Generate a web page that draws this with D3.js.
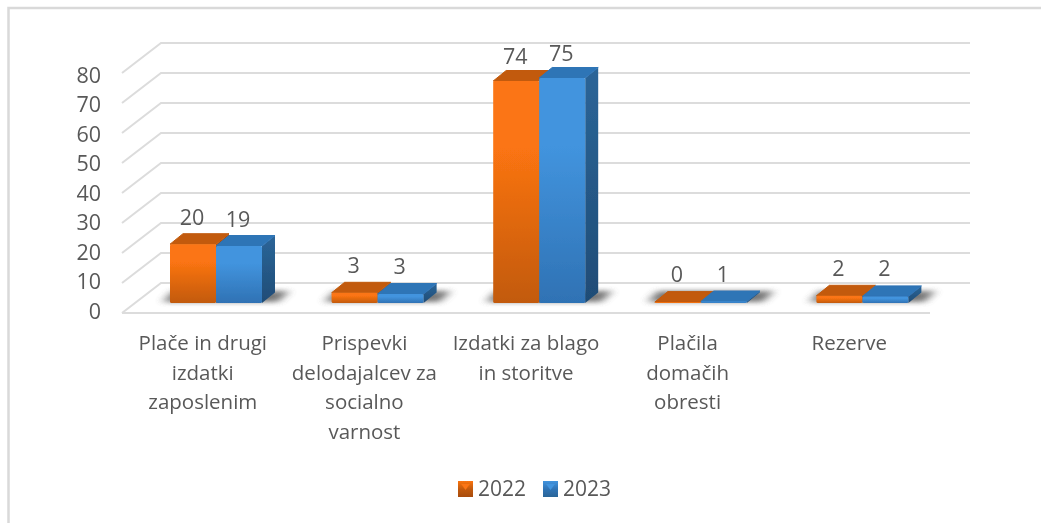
<!DOCTYPE html>
<html><head><meta charset="utf-8">
<script src="https://cdn.jsdelivr.net/npm/d3@7/dist/d3.min.js"></script>
<style>html,body{margin:0;padding:0;background:#fff}svg{display:block}text{font-family:"Open Sans",sans-serif;fill:#595959}</style>
</head><body><svg id="c" width="1041" height="523"></svg>
<script>
const categories=[["Plače in drugi","izdatki","zaposlenim"],["Prispevki","delodajalcev za","socialno","varnost"],["Izdatki za blago","in storitve"],["Plačila","domačih","obresti"],["Rezerve"]];
const series2022=[19.6,3.4,74,0.3,2.4];
const series2023=[19,3,75,0.5,2.2];
const seriesNames=["2022","2023"];
const yTicks=[0,10,20,30,40,50,60,70,80];
const colors=[{front:"#fb7412",dark:"#c25a0c",top:"#c25a0a",side:"#a84c08",sideDark:"#8a3f06"},{front:"#4294de",dark:"#2f72b4",top:"#2f74b6",side:"#2b6598",sideDark:"#1f4c76"}];
const svg=d3.select("#c");
const defs=svg.append("defs");
defs.append("filter").attr("id","soft").append("feGaussianBlur").attr("stdDeviation",0.4);
const sf=defs.append("filter").attr("id","shadow").attr("x","-30%").attr("width","160%").attr("y","-100%").attr("height","300%");
sf.append("feGaussianBlur").attr("stdDeviation",[5,2.5].join(" "));
colors.forEach((c,i)=>{
  const g=defs.append("linearGradient").attr("id","g"+i).attr("x1",0).attr("x2",0).attr("y1",0).attr("y2",1);
  g.append("stop").attr("offset",0).attr("stop-color",c.front);
  g.append("stop").attr("offset",0.3).attr("stop-color",c.front);
  g.append("stop").attr("offset",1).attr("stop-color",c.dark);
  const sd=defs.append("linearGradient").attr("id","d"+i).attr("x1",0).attr("x2",0).attr("y1",0).attr("y2",1);
  sd.append("stop").attr("offset",0).attr("stop-color",c.side);
  sd.append("stop").attr("offset",1).attr("stop-color",c.sideDark);
  const s=defs.append("linearGradient").attr("id","s"+i).attr("x1",0).attr("x2",0).attr("y1",0).attr("y2",1);
  s.append("stop").attr("offset",0).attr("stop-color",c.front);
  s.append("stop").attr("offset",0.5).attr("stop-color",c.top);
  s.append("stop").attr("offset",1).attr("stop-color",c.side);
});
svg.append("path").attr("d","M1041,8H8.5V523").attr("fill","none").attr("stroke","#d9d9d9").attr("stroke-width",2.5);
const root=svg.append("g").attr("filter","url(#soft)");
const depthX=39,depthY=30;
const y=d3.scaleLinear().domain([0,80]).range([313,73]);
const yLabel=d3.scaleLinear().domain([0,80]).range([311,75]);
const x0=d3.scaleBand().domain(d3.range(categories.length)).range([122,930]);
const x1=d3.scaleBand().domain([0,1]).range([48,140]);
// walls and floor grid
const grid=root.append("g").attr("fill","none").attr("stroke","#dcdcdc").attr("stroke-width",2);
yTicks.forEach(t=>{
  grid.append("path").attr("d",`M${x0.range()[0]},${y(t)}l${depthX},${-depthY}H${x0.range()[1]+depthX+1}`);
});
grid.append("path").attr("d",`M122,313H930`);
// y axis labels
root.append("g").selectAll("text").data(yTicks).join("text").attr("x",101).attr("y",d=>yLabel(d)).attr("dy","0.36em").attr("text-anchor","end").attr("font-size",21.5).text(d=>d);
// bars
const barBase=303,barDx=13,barDy=10.5;
const barH=v=>y(0)-y(v);
const data=categories.map((c,i)=>[series2022[i],series2023[i]]);
const groups=root.append("g").selectAll("g").data(data).join("g").attr("transform",(d,i)=>`translate(${x0(i)},0)`);
// shadow on the floor behind each pair of bars
groups.append("path").attr("filter","url(#shadow)").attr("fill","#555").attr("opacity",0.8).attr("d",()=>{
  const a=x1(0),b=x1(1)+x1.bandwidth();
  return `M${a-7},${barBase-1}L${a+3},${barBase-12}H${b+27}L${b+16},${barBase-1}Z`;
});
groups.each(function(vals){
  const g=d3.select(this);
  [0,1].forEach(s=>{
    const v=vals[s],h=barH(v),l=x1(s),w=x1.bandwidth(),c=colors[s],top=barBase-h;
    g.append("path").attr("fill",`url(#d${s})`).attr("d",`M${l+w},${top}l${barDx},${-barDy}V${barBase-barDy}l${-barDx},${barDy}Z`);
    g.append("path").attr("fill",c.top).attr("stroke",c.top).attr("stroke-linejoin","round").attr("d",`M${l},${top}l${barDx},${-barDy}h${w}l${-barDx},${barDy}Z`);
    g.append("rect").attr("x",l).attr("y",top).attr("rx",1.5).attr("width",w).attr("height",h).attr("fill",`url(#g${s})`);
  });
  [0,1].forEach(s=>{
    const v=vals[s],top=barBase-barH(v);
    g.append("text").attr("x",x1(s)+x1.bandwidth()/2-1).attr("y",top-20+v*0.04).attr("text-anchor","middle").attr("font-size",21.5).text(d3.format(".0f")(v));
  });
});
// category labels
const labels=root.append("g").selectAll("text").data(categories).join("text").attr("text-anchor","middle").attr("font-size",20.5);
labels.each(function(lines,i){
  d3.select(this).selectAll("tspan").data(lines).join("tspan").attr("x",x0(i)+x0.bandwidth()/2).attr("y",(d,k)=>350+k*29.7).text(d=>d);
});
// legend
const legendX=d3.scaleOrdinal().domain(seriesNames).range([458,543]);
const lg=root.append("g").selectAll("g").data(seriesNames).join("g").attr("transform",d=>`translate(${legendX(d)},481)`);
lg.append("rect").attr("width",15).attr("height",16).attr("fill",(d,i)=>`url(#s${i})`);
lg.append("path").attr("d","M3,3H12L7.5,9Z").attr("fill",(d,i)=>colors[i].front);
lg.append("text").attr("x",20).attr("y",15).attr("font-size",21).text(d=>d);
</script></body></html>
